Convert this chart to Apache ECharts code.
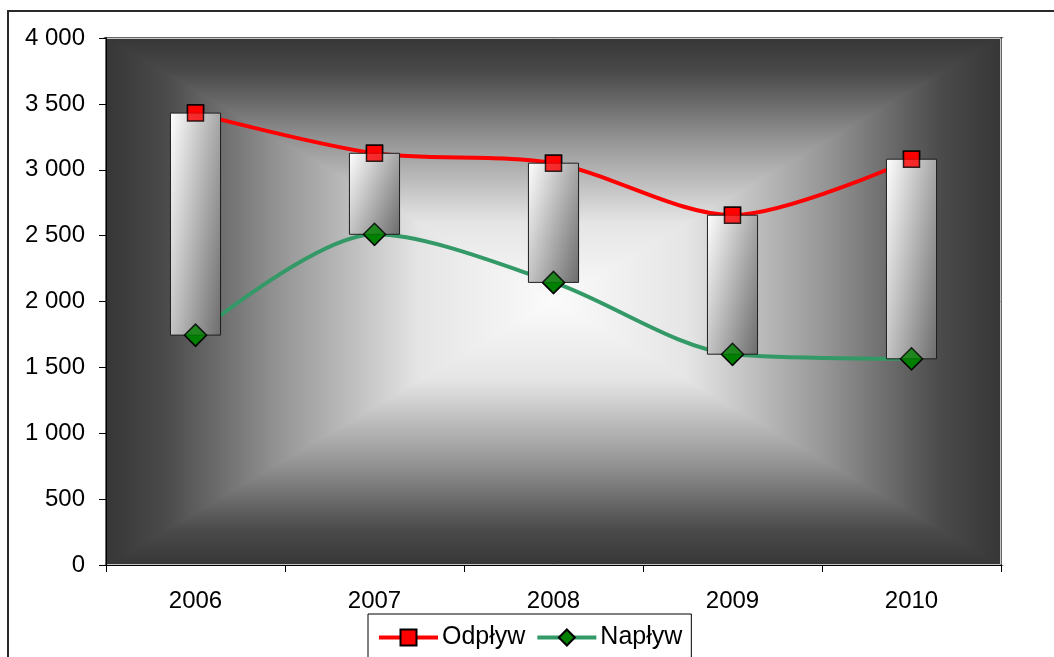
<!DOCTYPE html>
<html>
<head>
<meta charset="utf-8">
<script src="https://cdn.jsdelivr.net/npm/echarts@6/dist/echarts.min.js"></script>
<style>
html,body{margin:0;padding:0;background:#fff;}
#main{width:1054px;height:657px;}
</style>
</head>
<body>
<div id="main"></div>
<script>
const categories = ['2006', '2007', '2008', '2009', '2010'];
const odplyw = [3430, 3125, 3050, 2655, 3080];
const naplyw = [1745, 2510, 2145, 1600, 1565];
const yTicks = { min: 0, max: 4000, interval: 500 };

const FONT = '"Liberation Sans", Arial, sans-serif';
const G = { left: 106, top: 38, right: 1001, bottom: 565 };
const cx = (G.left + G.right) / 2, cy = (G.top + G.bottom) / 2;

const bgStops = [
  { offset: 0, color: '#363636' },
  { offset: 0.133, color: '#4a4a4a' },
  { offset: 0.246, color: '#6a6a6a' },
  { offset: 0.39, color: '#959595' },
  { offset: 0.7, color: '#e5e5e5' },
  { offset: 1, color: '#fbfbfb' }
];
function lg(x, y, x2, y2) {
  return { type: 'linear', x: x, y: y, x2: x2, y2: y2, colorStops: bgStops };
}
function tri(points, x, y, x2, y2) {
  return { type: 'polygon', z: -10, silent: true, shape: { points: points },
    style: { fill: lg(x, y, x2, y2), stroke: lg(x, y, x2, y2), lineWidth: 1.5 } };
}

const barData = categories.map((c, i) => [i, Math.max(odplyw[i], naplyw[i]), Math.min(odplyw[i], naplyw[i])]);

function fmt(v) {
  return String(v).replace(/\B(?=(\d{3})+(?!\d))/g, ' ');
}

const chart = echarts.init(document.getElementById('main'), null, { renderer: 'canvas' });
chart.setOption({
  animation: false,
  textStyle: { fontFamily: FONT },
  grid: { left: G.left, top: G.top, right: 1054 - G.right, bottom: 657 - G.bottom, show: false },
  graphic: [
    { type: 'rect', z: -20, silent: true, shape: { x: 8, y: 11, width: 1100, height: 700 }, style: { fill: '#fff', stroke: '#2a2a2a', lineWidth: 2 } },
    tri([[G.left, G.top], [G.right, G.top], [cx, cy]], 0, 0, 0, 1),
    tri([[G.left, G.bottom], [G.right, G.bottom], [cx, cy]], 0, 1, 0, 0),
    tri([[G.left, G.top], [G.left, G.bottom], [cx, cy]], 0, 0, 1, 0),
    tri([[G.right, G.top], [G.right, G.bottom], [cx, cy]], 1, 0, 0, 0),
    { type: 'rect', z: -5, silent: true, shape: { x: G.left + 0.5, y: G.top + 0.5, width: G.right - G.left - 1, height: G.bottom - G.top - 1 }, style: { fill: null, stroke: '#c4c4c4', lineWidth: 1 } }
  ],
  legend: {
    left: 368, top: 614,
    padding: [11, 9, 14, 9],
    borderColor: '#000', borderWidth: 1,
    backgroundColor: '#fff',
    itemWidth: 59, itemHeight: 20, itemGap: 10,
    lineStyle: { width: 4 },
    textStyle: { fontSize: 25, color: '#000', fontFamily: FONT, padding: [0, 0, 0, -1] },
    data: ['Odpływ', 'Napływ']
  },
  xAxis: {
    type: 'category',
    data: categories,
    boundaryGap: true,
    axisLine: { show: true, lineStyle: { color: '#000', width: 1 } },
    axisTick: { show: true, length: 7, lineStyle: { color: '#000' } },
    axisLabel: { fontSize: 24, color: '#000', margin: 24, fontFamily: FONT },
    splitLine: { show: false }
  },
  yAxis: {
    type: 'value',
    min: yTicks.min, max: yTicks.max, interval: yTicks.interval,
    axisLine: { show: true, lineStyle: { color: '#000', width: 1 } },
    axisTick: { show: true, length: 7, lineStyle: { color: '#000' } },
    axisLabel: { fontSize: 24, color: '#000', margin: 21, fontFamily: FONT, formatter: fmt },
    splitLine: { show: false }
  },
  series: [
    {
      name: 'Odpływ', type: 'line', data: odplyw, smooth: 0.3, z: 1,
      lineStyle: { color: '#ff0000', width: 4 },
      itemStyle: { color: '#ff0000', borderColor: '#000', borderWidth: 1.5 },
      symbol: 'rect', symbolSize: 16
    },
    {
      name: 'Napływ', type: 'line', data: naplyw, smooth: 0.3, z: 1,
      lineStyle: { color: '#339966', width: 4 },
      itemStyle: { color: '#008000', borderColor: '#000', borderWidth: 1.5 },
      symbol: 'diamond', symbolSize: 22
    },
    {
      name: 'updown', type: 'custom', z: 2, silent: true,
      encode: { x: 0, y: [1, 2] },
      data: barData,
      renderItem: function (params, api) {
        const hi = api.coord([api.value(0), api.value(1)]);
        const lo = api.coord([api.value(0), api.value(2)]);
        const w = api.size([1, 0])[0] * 0.28;
        const h = lo[1] - hi[1];
        const a = 0.6, b = 0.4;
        const d2 = 1 / (a * a / (w * w) + b * b / (h * h));
        const dx = a * d2 / w, dy = b * d2 / h;
        return {
          type: 'rect',
          shape: { x: hi[0] - w / 2, y: hi[1], width: w, height: h },
          style: {
            fill: { type: 'linear', x: 0, y: 0, x2: dx / w, y2: dy / h, colorStops: [
              { offset: 0, color: '#ffffff' }, { offset: 1, color: '#6a6a6a' }] },
            stroke: '#1e1e1e', lineWidth: 1
          }
        };
      }
    },
    {
      name: 'Odpływ', type: 'scatter', data: odplyw, z: 3, silent: true,
      itemStyle: { color: '#ff0000', borderColor: '#000', borderWidth: 1.5 },
      symbol: 'rect', symbolSize: 16
    },
    {
      name: 'Napływ', type: 'scatter', data: naplyw, z: 3, silent: true,
      itemStyle: { color: '#008000', borderColor: '#000', borderWidth: 1.5 },
      symbol: 'diamond', symbolSize: 22
    }
  ]
});
</script>
</body>
</html>
